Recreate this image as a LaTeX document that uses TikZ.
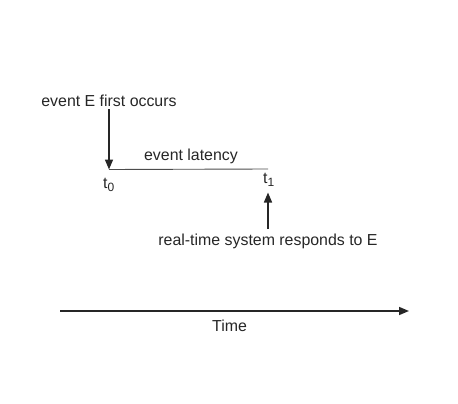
\documentclass[tikz,border=0pt]{standalone}
\usepackage{fontspec}
\setmainfont{Liberation Sans}
\usetikzlibrary{arrows.meta}
\newcommand{\subsc}[1]{\raisebox{-0.45ex}{\fontsize{12}{12}\selectfont #1}}
\begin{document}
\begin{tikzpicture}[x=1pt,y=-1pt,
  lbl/.style={inner sep=0pt,font=\fontsize{15.9}{18}\selectfont,text=black!85,anchor=base},
  arr/.style={line width=1.5pt,draw=black!85,-{Triangle[length=10pt,width=8pt]}},
  thinline/.style={line width=0.9pt,draw=black!70}]
\useasboundingbox (0,0) rectangle (458,404);
\node[lbl] (ev) at (109,106.5) {event E first occurs};
\coordinate (evb) at (109,109);
\coordinate (t0p) at (109,169.5);
\coordinate (t1p) at (268,169);
\draw[arr] (evb) -- (t0p);
\draw[thinline] (t0p) -- (t1p);
\node[lbl] (lat) at (191,160) {event latency};
\node[lbl,anchor=base west] (t0) at (103,188) {t\subsc{0}};
\node[lbl,anchor=base west] (t1) at (263,183) {t\subsc{1}};
\node[lbl] (resp) at (268,245.5) {real-time system responds to E};
\coordinate (rt) at (268,229);
\coordinate (rtt) at (268,192.5);
\draw[arr] (rt) -- (rtt);
\coordinate (ts) at (60,311);
\coordinate (te) at (409,311);
\draw[arr] (ts) -- (te);
\node[lbl] (time) at (229.5,331.5) {Time};
\end{tikzpicture}
\end{document}
